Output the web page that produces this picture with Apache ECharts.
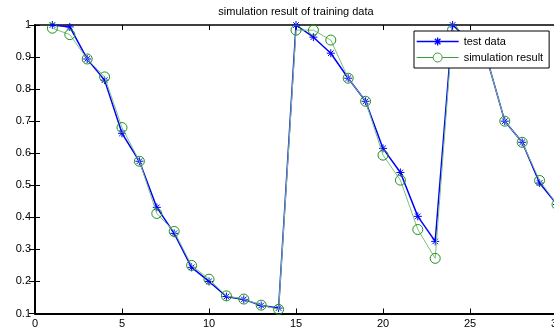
<!DOCTYPE html>
<html>
<head>
<meta charset="utf-8">
<script src="https://cdn.jsdelivr.net/npm/echarts@6/dist/echarts.min.js"></script>
<style>html,body{margin:0;padding:0;background:#fff}#c{width:554px;height:331px}</style>
</head>
<body>
<div id="c"></div>
<script>
var xs = [1,2,3,4,5,6,7,8,9,10,11,12,13,14,15,16,17,18,19,20,21,22,23,24,25,26,27,28,29,30];
var testData = [1.0,0.994,0.894,0.828,0.662,0.575,0.431,0.35,0.244,0.2,0.153,0.144,0.125,0.117,1.0,0.962,0.912,0.834,0.762,0.615,0.54,0.403,0.325,1.0,0.95,0.89,0.70,0.634,0.507,0.44];
var simData = [0.99,0.97,0.894,0.838,0.68,0.575,0.412,0.356,0.25,0.207,0.155,0.145,0.126,0.113,0.984,0.984,0.953,0.834,0.762,0.594,0.516,0.362,0.272,0.985,0.95,0.89,0.70,0.634,0.515,0.44];
var xTicks = [0,5,10,15,20,25,30];
var titleText = 'simulation result of training data';
var seriesNames = ['test data','simulation result'];

var FONT = 'Liberation Sans, Arial, sans-serif';
var chart = echarts.init(document.getElementById('c'), null, {renderer:'canvas'});
function pairs(v){ return xs.map(function(x,i){ return [x, v[i]]; }); }
var star = 'path://M5,0L5,10M0,5L10,5M1.5,1.5L8.5,8.5M8.5,1.5L1.5,8.5';
var starIcon = 'path://M0,4.5L42,4.5M21,0.5L21,8.5M17,4.5L25,4.5M18.2,1.7L23.8,7.3M23.8,1.7L18.2,7.3M0,0.01L0,0M42,9L42,8.99';
var circIcon = 'path://M0,4.5L16.5,4.5M25.5,4.5L42,4.5M25.5,4.5A4.5,4.5 0 1 1 16.5,4.5A4.5,4.5 0 1 1 25.5,4.5';
chart.setOption({
  animation:false,
  backgroundColor:'#fff',
  title:{text:titleText,left:296,top:6,textAlign:'center',padding:0,
    textStyle:{fontFamily:FONT,fontSize:11,fontWeight:'normal',color:'#000'}},
  grid:{left:35,top:25,width:522,height:288.5,containLabel:false,outerBoundsMode:'none'},
  legend:{orient:'vertical',left:414,top:31,
    borderColor:'#000',borderWidth:1,backgroundColor:'#fff',borderRadius:0,
    padding:[5,6,5,2],itemWidth:42,itemHeight:9,itemGap:5,z:10,
    data:[
      {name:seriesNames[0],icon:starIcon,itemStyle:{color:'rgba(0,0,0,0)',borderColor:'#0000ff',borderWidth:1.3}},
      {name:seriesNames[1],icon:circIcon,itemStyle:{color:'rgba(0,0,0,0)',borderColor:'#3c9c3c',borderWidth:1}}
    ],
    textStyle:{fontFamily:FONT,fontSize:11,color:'#000'}},
  xAxis:[{type:'value',min:xTicks[0],max:xTicks[xTicks.length-1],interval:5,position:'bottom',
      axisLine:{lineStyle:{color:'#000',width:2}},
      axisTick:{inside:true,length:5,lineStyle:{color:'#000',width:1}},
      axisLabel:{color:'#000',fontFamily:FONT,fontSize:11,margin:5},
      splitLine:{show:false}},
    {type:'value',min:xTicks[0],max:xTicks[xTicks.length-1],interval:5,position:'top',
      axisLine:{lineStyle:{color:'#000',width:1.5}},
      axisTick:{inside:true,length:5,lineStyle:{color:'#000',width:1}},
      axisLabel:{show:false},splitLine:{show:false}}],
  yAxis:[{type:'value',min:0.1,max:1,interval:0.1,position:'left',
      axisLine:{show:true,lineStyle:{color:'#000',width:2}},
      axisTick:{show:true,inside:true,length:5,lineStyle:{color:'#000',width:1}},
      axisLabel:{color:'#000',fontFamily:FONT,fontSize:11,margin:4,
        formatter:function(v){return String(Math.round(v*10)/10);}},
      splitLine:{show:false}},
    {type:'value',min:0.1,max:1,interval:0.1,position:'right',
      axisLine:{show:true,lineStyle:{color:'#000',width:1}},
      axisTick:{show:true,inside:true,length:6,lineStyle:{color:'#000',width:1}},
      axisLabel:{show:false},splitLine:{show:false}}],
  series:[
    {name:seriesNames[0],type:'line',data:pairs(testData),symbol:star,symbolSize:8,
      lineStyle:{color:'#0000ff',width:1.5},
      itemStyle:{color:'#0000ff',borderColor:'#0000ff',borderWidth:1},z:3},
    {name:seriesNames[1],type:'line',data:pairs(simData),symbol:'circle',symbolSize:10,
      lineStyle:{color:'#7cc07c',width:1},
      itemStyle:{color:'rgba(0,0,0,0)',borderColor:'#1f901f',borderWidth:1},z:4}
  ]
});
</script>
</body>
</html>
